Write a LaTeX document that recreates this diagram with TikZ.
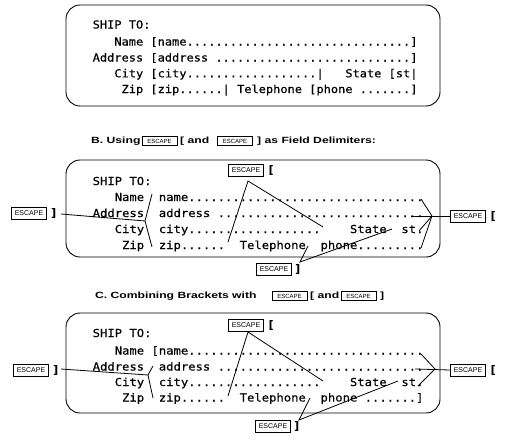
\documentclass[tikz,border=0pt]{standalone}
\usepackage{fontspec}
\usepackage{graphicx}
\newfontfamily\scrfont[FakeStretch=1.11,FakeBold=0.4]{DejaVu Sans Mono}
\newfontfamily\scrfontA[FakeStretch=1.09,FakeBold=0.4]{DejaVu Sans Mono}
\newfontfamily\headfont{Liberation Sans}
\newfontfamily\keyfont{Liberation Sans}
\newcommand\SP{\hphantom{x}}
\newcommand\hs[1]{\scalebox{1.35}[1]{#1}}
\ExplSyntaxOn
\NewDocumentCommand\dts{m}{\prg_replicate:nn{#1}{.}}
\ExplSyntaxOff
\tikzset{
 panel/.style={draw, line width=0.9pt, rounded corners=14pt},
 scr/.style={font=\scrfont\fontsize{11}{11}\selectfont, anchor=base west, inner sep=0pt},
 scrA/.style={font=\scrfontA\fontsize{11}{11}\selectfont, anchor=base west, inner sep=0pt},
 escbox/.style={draw, line width=0.8pt, minimum width=35pt, minimum height=12pt, inner sep=0pt, font=\keyfont\fontsize{7}{7}\selectfont},
 escsmall/.style={escbox, minimum height=9pt, font=\keyfont\fontsize{6}{6}\selectfont},
 brk/.style={font=\scrfont\bfseries\fontsize{11}{11}\selectfont, inner sep=0pt, anchor=west},
 head/.style={font=\headfont\bfseries\fontsize{9}{9}\selectfont, inner sep=0pt, anchor=west},
 conn/.style={line width=0.8pt},
}
\begin{document}
\begin{tikzpicture}[x=1pt,y=-1pt]
\useasboundingbox (0,0) rectangle (506,442);
% ---------------- Panel A
\draw[panel] (66,5) rectangle (440,106);
\node[scrA] (a0) at (92.5,28.5) {SHIP\SP TO:};
\node[scrA] (a1) at (92.5,45.5) {\SP\SP\SP Name\SP[name\dts{31}]};
\node[scrA] (a2) at (92.5,61.5) {Address\SP[address\SP\dts{27}]};
\node[scrA] (a3) at (92.5,77.3) {\SP\SP\SP City\SP[city\dts{18}|\SP\SP\SP State\SP[st|};
\node[scrA] (a4) at (92.5,93) {\SP\SP\SP\SP Zip\SP[zip\dts{6}|\SP Telephone\SP[phone\SP\dts{7}]};
% ---------------- Heading B
\node[head] (hB1) at (91,141) {\hs{B. Using}};
\node[escsmall] (hBk1) at (159.5,141) {ESCAPE};
\node[head] (hB2) at (180,141) {\hs{[ and}};
\node[escsmall] (hBk2) at (235,141) {ESCAPE};
\node[head] (hB3) at (257,141) {\hs{] as Field Delimiters:}};
% ---------------- Panel B
\draw[panel] (66,160) rectangle (440,257);
\node[scr] (b0) at (92.5,185) {SHIP\SP TO:};
\node[scr] (b1) at (92.5,201) {\SP\SP\SP Name\SP\SP name\dts{32}};
\node[scr] (b2) at (92.5,217) {Address\SP\SP address\SP\dts{28}};
\node[scr] (b3) at (92.5,233) {\SP\SP\SP City\SP\SP city\dts{18}\SP\SP\SP\SP State\SP\SP st.};
\node[scr] (b4) at (92.5,249) {\SP\SP\SP\SP Zip\SP\SP zip\dts{6}\SP\SP Telephone\SP\SP phone\dts{9}};
% keys B
\node[escbox] (bLk) at (29,213) {ESCAPE};
\node[brk] (bLb) at (50,213) {]};
\node[escbox] (bTk) at (246,170) {ESCAPE};
\node[brk] (bTb) at (267,170) {[};
\node[escbox] (bBk) at (274,269) {ESCAPE};
\node[brk] (bBb) at (294,269) {]};
\node[escbox] (bRk) at (468,216) {ESCAPE};
\node[brk] (bRb) at (489,216) {[};
% connectors B
\coordinate (bL0) at (61,214);
\coordinate (bJ) at (145,221);
\coordinate (bJn) at (152,194);
\coordinate (bJz) at (152,247);
\draw[conn] (bL0) -- (bJ);
\draw[conn] (bJ) -- (bJn);
\draw[conn] (bJ) -- (bJz);
\coordinate (bT) at (248,181);
\coordinate (bTt) at (228,242);
\coordinate (bTs) at (323,227);
\draw[conn] (bTt) -- (bT) -- (bTs);
\coordinate (bP) at (300,262);
\coordinate (bPp) at (308,246);
\coordinate (bPs) at (392,229);
\draw[conn] (bPp) -- (bP) -- (bPs);
\coordinate (bR) at (432,216);
\coordinate (bRa) at (411,216);
\coordinate (bRn) at (421,199);
\coordinate (bRc) at (419,231);
\coordinate (bRz) at (421,248);
\draw[conn] (bRk.west) -- (bRa);
\draw[conn] (bRn) -- (bR) -- (bRc);
\draw[conn] (bR) -- (bRz);
% ---------------- Heading C
\node[head] (hC1) at (95,296) {\hs{C. Combining Brackets with}};
\node[escsmall] (hCk1) at (289.5,296) {ESCAPE};
\node[head] (hC2) at (310,296) {\hs{[ and}};
\node[escsmall] (hCk2) at (358.5,296) {ESCAPE};
\node[head] (hC3) at (380,296) {\hs{]}};
% ---------------- Panel C
\draw[panel] (66,313) rectangle (440,413);
\node[scr] (c0) at (92.5,337) {SHIP\SP TO:};
\node[scr] (c1) at (92.5,354.5) {\SP\SP\SP Name\SP[name\dts{32}};
\node[scr] (c2) at (92.5,370.5) {Address\SP\SP address\SP\dts{28}};
\node[scr] (c3) at (92.5,386) {\SP\SP\SP City\SP\SP city\dts{18}\SP\SP\SP\SP State\SP\SP st.};
\node[scr] (c4) at (92.5,401.5) {\SP\SP\SP\SP Zip\SP\SP zip\dts{6}\SP\SP Telephone\SP\SP phone\SP\dts{7}]};
% keys C
\node[escbox] (cLk) at (31,370) {ESCAPE};
\node[brk] (cLb) at (52,370) {]};
\node[escbox] (cTk) at (246,325) {ESCAPE};
\node[brk] (cTb) at (267,325) {[};
\node[escbox] (cBk) at (273,426) {ESCAPE};
\node[brk] (cBb) at (293,426) {]};
\node[escbox] (cRk) at (468,370) {ESCAPE};
\node[brk] (cRb) at (489,370) {[};
% connectors C
\coordinate (cL0) at (61,369);
\coordinate (cJ) at (148,375);
\coordinate (cJa) at (153,366);
\coordinate (cJz) at (153,398);
\draw[conn] (cL0) -- (cJ);
\draw[conn] (cJa) -- (cJ) -- (cJz);
\coordinate (cT) at (248,332);
\coordinate (cTt) at (228,396);
\coordinate (cTs) at (323,381);
\draw[conn] (cTt) -- (cT) -- (cTs);
\coordinate (cP) at (299,420);
\coordinate (cPp) at (310,398);
\coordinate (cPs) at (398,381);
\draw[conn] (cPp) -- (cP) -- (cPs);
\coordinate (cR) at (435,369);
\coordinate (cRa) at (415,369);
\coordinate (cRn) at (421,354);
\coordinate (cRc) at (418,386);
\draw[conn] (cRk.west) -- (cRa);
\draw[conn] (cRn) -- (cR) -- (cRc);
\end{tikzpicture}
\end{document}
